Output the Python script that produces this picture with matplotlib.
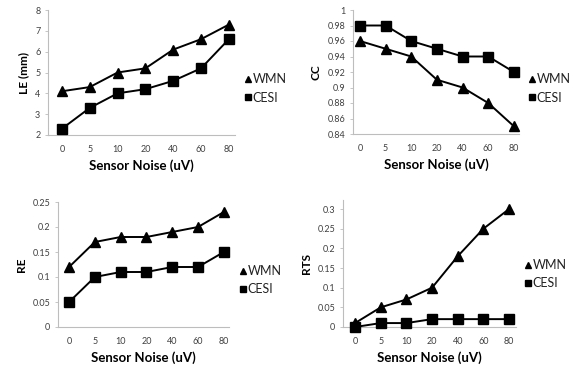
import matplotlib
matplotlib.use("Agg")
import matplotlib.pyplot as plt
from matplotlib.lines import Line2D

plt.rcParams['font.family'] = ['Lato', 'DejaVu Sans']

noise = ['0', '5', '10', '20', '40', '60', '80']

le_wmn = [4.1, 4.3, 5.0, 5.2, 6.1, 6.6, 7.3]
le_cesi = [2.3, 3.3, 4.0, 4.2, 4.6, 5.2, 6.6]
cc_wmn = [0.96, 0.95, 0.94, 0.91, 0.90, 0.88, 0.85]
cc_cesi = [0.98, 0.98, 0.96, 0.95, 0.94, 0.94, 0.92]
re_wmn = [0.12, 0.17, 0.18, 0.18, 0.19, 0.20, 0.23]
re_cesi = [0.05, 0.10, 0.11, 0.11, 0.12, 0.12, 0.15]
rts_wmn = [0.01, 0.05, 0.07, 0.10, 0.18, 0.25, 0.30]
rts_cesi = [0.00, 0.01, 0.01, 0.02, 0.02, 0.02, 0.02]

W, H = 576, 369
fig = plt.figure(figsize=(W / 100, H / 100), dpi=100)

def px_axes(left, top, right, bottom):
    return fig.add_axes([left / W, 1 - bottom / H, (right - left) / W, (bottom - top) / H])

# box in px, xlim, ylim, yticks, ylabel, series, legend anchor px
panels = [
    ((48, 10, 235, 135), (-0.5, 6.22), (2, 8), [2, 3, 4, 5, 6, 7, 8], 'LE (mm)',
     le_wmn, le_cesi, (245, 88.5)),
    ((353, 10, 519, 134), (-0.27, 6.2), (0.84, 1.0),
     [0.84, 0.86, 0.88, 0.9, 0.92, 0.94, 0.96, 0.98, 1.0], 'CC',
     cc_wmn, cc_cesi, (529, 88.5)),
    ((58, 202, 229, 327), (-0.43, 6.2), (0, 0.25),
     [0, 0.05, 0.1, 0.15, 0.2, 0.25], 'RE', re_wmn, re_cesi, (240, 280)),
    ((343, 200, 516, 327), (-0.47, 6.27), (0, 0.323),
     [0, 0.05, 0.1, 0.15, 0.2, 0.25, 0.3], 'RTS', rts_wmn, rts_cesi, (525, 274)),
]

for box, xl, yl, yt, ylab, wmn, cesi, leg in panels:
    ax = px_axes(*box)
    x = range(len(noise))
    ax.plot(x, wmn, color='black', lw=1.4, marker='^', ms=6.5, clip_on=False, zorder=3)
    ax.plot(x, cesi, color='black', lw=1.4, marker='s', ms=7, clip_on=False, zorder=3)
    ax.set_xlim(*xl)
    ax.set_ylim(*yl)
    ax.set_xticks(list(x))
    ax.set_xticklabels(noise)
    ax.set_yticks(yt)
    ax.set_yticklabels(['%g' % v for v in yt])
    for s in ['top', 'right']:
        ax.spines[s].set_visible(False)
    for s in ['left', 'bottom']:
        ax.spines[s].set_color('#bdbdbd')
        ax.spines[s].set_linewidth(0.8)
    ax.tick_params(axis='x', length=0, pad=7, labelsize=6.5, colors='#404040')
    ax.tick_params(axis='y', length=2.5, width=0.6, color='#bdbdbd', pad=3,
                   labelsize=6.5, labelcolor='#404040')
    ax.set_xlabel('Sensor Noise (uV)', fontsize=9.5, fontweight='bold', labelpad=4)
    ax.set_ylabel(ylab, fontsize=8.5, fontweight='bold', labelpad=4)
    handles = [Line2D([], [], color='black', marker='^', ls='none', ms=4.5),
               Line2D([], [], color='black', marker='s', ls='none', ms=4.5)]
    lg = fig.legend(handles, ['WMN', 'CESI'], loc='center left',
                    bbox_to_anchor=(leg[0] / W, 1 - leg[1] / H), frameon=False,
                    handlelength=0.5, handletextpad=0.1, labelspacing=0.5,
                    fontsize=9, borderaxespad=0, borderpad=0)
    for t in lg.get_texts():
        t.set_color('#222222')

fig.savefig('out.png', dpi=100)
